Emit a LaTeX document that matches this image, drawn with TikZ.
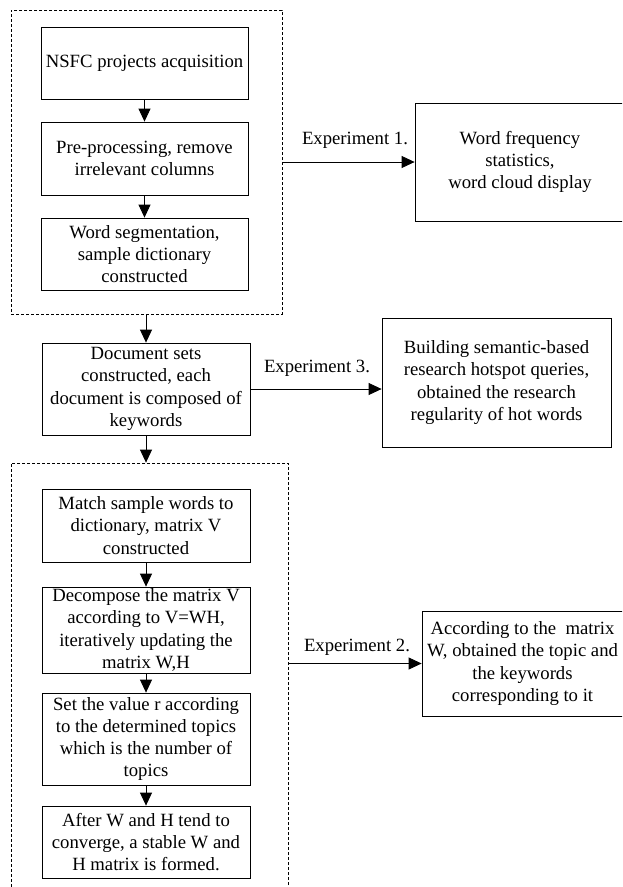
\documentclass[tikz,border=0pt]{standalone}
\usepackage{fontspec}
\setmainfont{Liberation Serif}
\usetikzlibrary{arrows.meta,calc}
\begin{document}
\begin{tikzpicture}[x=1pt,y=-1pt,
  every node/.style={font=\fontsize{18.7}{22.3}\selectfont},
  procbox/.style={draw, line width=0.8pt, align=center, inner sep=0pt, anchor=center},
  groupbox/.style={draw, line width=0.8pt, dash pattern=on 3pt off 2pt},
  flow/.style={line width=0.8pt, -{Triangle[length=13pt,width=12pt]}},
  lbl/.style={inner sep=0pt, anchor=center}]
\clip (0,0) rectangle (622,887);
\fill[white] (0,0) rectangle (622,887);
% dashed groups
\node[groupbox, minimum width=271pt, minimum height=304pt, inner sep=0pt] (g1) at (146.5,162) {};
\node[groupbox, minimum width=277pt, minimum height=460pt, inner sep=0pt] (g2) at (149.5,693) {};
% left column
\node[procbox, minimum width=207pt, minimum height=72pt] (a) at (144.5,63) {NSFC projects acquisition};
\node[procbox, minimum width=207pt, minimum height=73pt] (b) at (144.5,158.5) {Pre-processing, remove\\irrelevant columns};
\node[procbox, minimum width=207pt, minimum height=72pt] (c) at (144.5,254) {Word segmentation,\\sample dictionary\\constructed};
\node[procbox, minimum width=208pt, minimum height=92pt] (doc) at (146,389) {Document sets\\constructed, each\\document is composed of\\keywords};
\node[procbox, minimum width=208pt, minimum height=73pt] (m) at (146,525.5) {Match sample words to\\dictionary, matrix V\\constructed};
\node[procbox, minimum width=208pt, minimum height=86pt] (dec) at (146,630) {Decompose the matrix V\\according to V=WH,\\iteratively updating the\\matrix W,H};
\node[procbox, minimum width=208pt, minimum height=92pt] (set) at (146,739) {Set the value r according\\to the determined topics\\which is the number of\\topics};
\node[procbox, minimum width=208pt, minimum height=72pt] (aft) at (146,842) {After W and H tend to\\converge, a stable W and\\H matrix is formed.};
% right column
\node[procbox, minimum width=210pt, minimum height=118pt] (wf) at (520,162) {Word frequency\\statistics,\\word cloud display};
\node[procbox, minimum width=229pt, minimum height=129pt] (bld) at (496.5,382.5) {Building semantic-based\\research hotspot queries,\\obtained the research\\regularity of hot words};
\node[procbox, minimum width=201pt, minimum height=105pt] (acc) at (522.5,663.5) {According to the\ \ matrix\\W, obtained the topic and\\the keywords\\corresponding to it};
% labels
\node[lbl] (l1) at (355,140) {Experiment 1.};
\node[lbl] (l3) at (317,368) {Experiment 3.};
\node[lbl] (l2) at (357,647) {Experiment 2.};
% vertical flow
\draw[flow] (a) -- (b);
\draw[flow] (b) -- (c);
\draw[flow] (g1.south -| doc.north) -- (doc.north);
\draw[flow] (doc.south) -- (g2.north -| doc.south);
\draw[flow] (m) -- (dec);
\draw[flow] (dec) -- (set);
\draw[flow] (set) -- (aft);
% horizontal flow
\draw[flow] (g1.east) -- (wf.west);
\draw[flow] (doc.east) -- (doc.east -| bld.west);
\draw[flow] (acc.west -| g2.east) -- (acc.west);
\end{tikzpicture}
\end{document}
